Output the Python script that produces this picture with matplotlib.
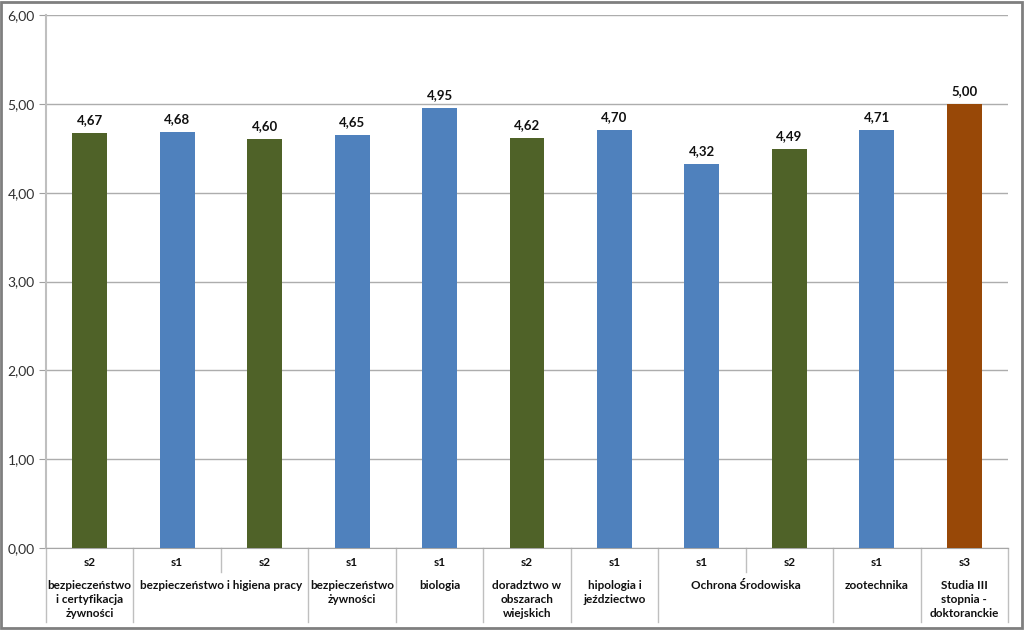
import matplotlib
matplotlib.use("Agg")
import matplotlib.pyplot as plt
from matplotlib.patches import Rectangle
from matplotlib.lines import Line2D

levels = ["s2", "s1", "s2", "s1", "s1", "s2", "s1", "s1", "s2", "s1", "s3"]
values = [4.67, 4.68, 4.60, 4.65, 4.95, 4.62, 4.70, 4.32, 4.49, 4.71, 5.00]
groups = ["bezpieczeństwo\ni certyfikacja\nżywności",
          "bezpieczeństwo i higiena pracy",
          "bezpieczeństwo\nżywności",
          "biologia",
          "doradztwo w\nobszarach\nwiejskich",
          "hipologia i\njeździectwo",
          "Ochrona Środowiska",
          "zootechnika",
          "Studia III\nstopnia -\ndoktoranckie"]
group_sizes = [1, 2, 1, 1, 1, 1, 2, 1, 1]
yticks = [0, 1, 2, 3, 4, 5, 6]

level_colors = {"s1": "#4F81BD", "s2": "#4F6228", "s3": "#984807"}
colors = [level_colors[l] for l in levels]

plt.rcParams['font.family'] = ['Lato', 'DejaVu Sans']

W, H = 1024, 630
fig = plt.figure(figsize=(W / 100, H / 100), dpi=100)
left_px, right_px, top_px, bot_px = 46, 1008, 15, 548
ax = fig.add_axes([left_px / W, 1 - bot_px / H, (right_px - left_px) / W, (bot_px - top_px) / H])

n = len(values)
x = list(range(n))
ax.bar(x, values, width=0.4, color=colors, zorder=3)
ax.set_xlim(-0.5, n - 0.5)
ax.set_ylim(0, 6)
ax.set_yticks(yticks)
ax.set_yticklabels([f"{v:.2f}".replace(".", ",") for v in yticks], fontsize=10, color="#303030")
ax.tick_params(axis='y', length=5, color="#A0A0A0", pad=3)
ax.set_xticks([])
ax.yaxis.grid(True, color="#ADADAD", linewidth=1)
ax.set_axisbelow(True)
for s in ["top", "right"]:
    ax.spines[s].set_visible(False)
ax.spines["left"].set_color("#BFBFBF")
ax.spines["left"].set_linewidth(1.5)
ax.spines["bottom"].set_color("#A6A6A6")

for xi, v in zip(x, values):
    ax.annotate(f"{v:.2f}".replace(".", ","), (xi, v), xytext=(0, 7), textcoords="offset pixels",
                ha="center", va="bottom", fontsize=9.5, fontweight="bold", color="#111111")

ah = bot_px - top_px
def yf(p):
    return (bot_px - p) / ah

trans = ax.get_xaxis_transform()
for xi, l in zip(x, levels):
    ax.text(xi, yf(563), l, transform=trans, ha="center", va="center",
            fontsize=8.5, fontweight="bold", color="#111111")

# dividers
pos = -0.5
bounds = [pos]
for gs in group_sizes:
    pos += gs
    bounds.append(pos)
for i in range(n + 1):
    b = i - 0.5
    full = any(abs(b - bb) < 1e-9 for bb in bounds)
    y1 = yf(622) if full else yf(572)
    ax.add_line(Line2D([b, b], [0, y1], transform=trans, color="#BFBFBF", lw=1, clip_on=False))

start = -0.5
for g, gs in zip(groups, group_sizes):
    c = start + gs / 2
    ax.text(c, yf(580), g, transform=trans, ha="center", va="top", fontsize=8.5,
            fontweight="bold", color="#111111", linespacing=1.35)
    start += gs

fig.patches.append(Rectangle((1 / W, 2 / H), (W - 3) / W, (H - 4) / H, transform=fig.transFigure,
                             fill=False, edgecolor="#7F7F7F", linewidth=2))

fig.savefig("out.png", dpi=100)
